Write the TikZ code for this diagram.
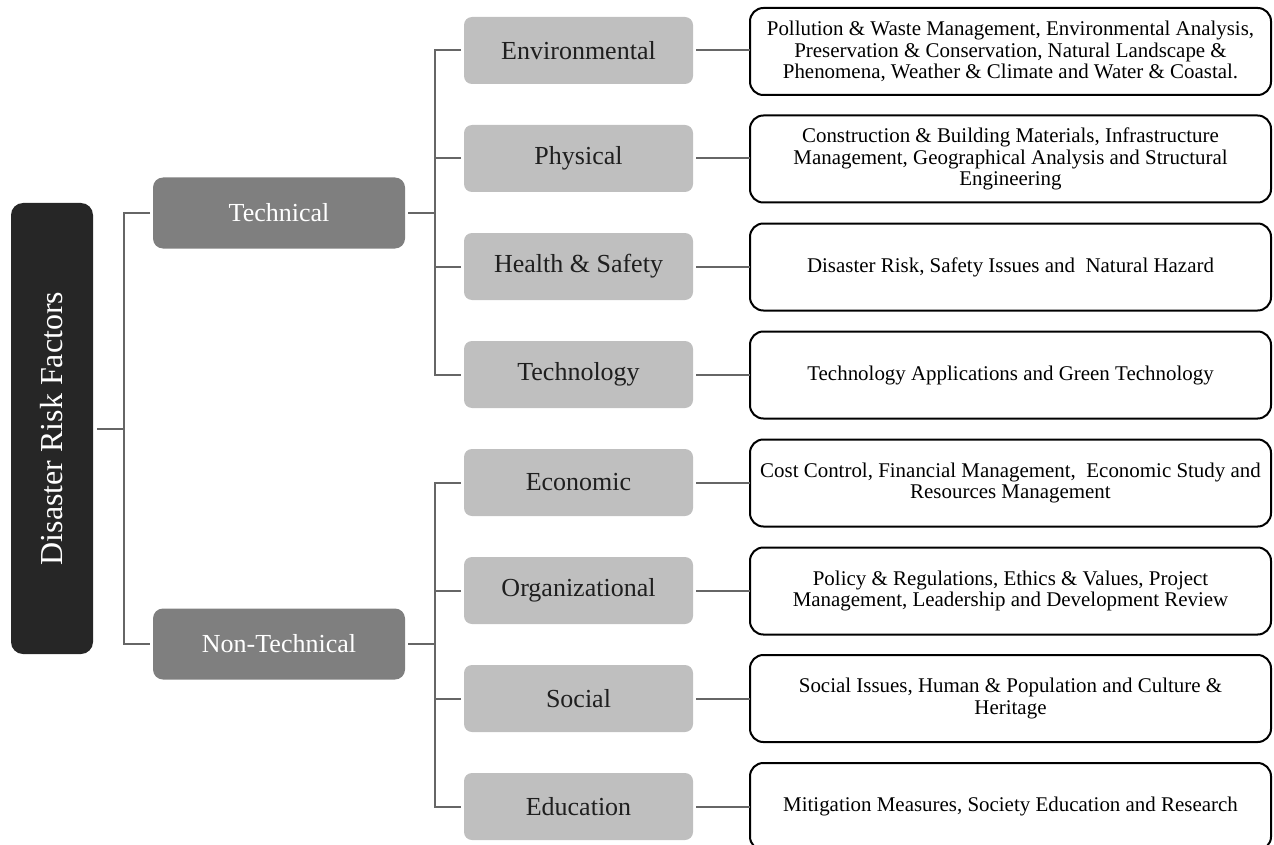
\documentclass[tikz,border=0pt]{standalone}
\usepackage{fontspec}
\setmainfont{Liberation Serif}
\definecolor{rootfill}{HTML}{262626}
\definecolor{midfill}{HTML}{7F7F7F}
\definecolor{leaffill}{HTML}{BFBFBF}
\definecolor{connc}{HTML}{666666}
\definecolor{leaftext}{HTML}{1F1F1F}
\tikzset{
  rootbox/.style={fill=rootfill, rounded corners=9pt, minimum width=61.5pt, minimum height=338.25pt, inner sep=0pt, outer sep=3pt, text=white, font=\fontsize{24}{26}\selectfont},
  midbox/.style={fill=midfill, rounded corners=7.5pt, minimum width=189pt, minimum height=53.25pt, inner sep=0pt, outer sep=2.25pt, text=white, font=\fontsize{19.5}{21}\selectfont},
  leafbox/.style={fill=leaffill, rounded corners=6pt, minimum width=171.75pt, minimum height=50.25pt, inner sep=0pt, outer sep=2.25pt, text=leaftext, font=\fontsize{19.5}{21}\selectfont},
  descbox/.style={draw=black, line width=1.5pt, fill=white, rounded corners=10pt, minimum width=390.75pt, minimum height=65.25pt, inner sep=0pt, outer sep=0pt, align=center, font=\fontsize{15.7}{16}\selectfont},
  conn/.style={draw=connc, line width=1.5pt}
}
\begin{document}
\begin{tikzpicture}[x=0.75pt,y=-0.75pt]
\useasboundingbox (0,0) rectangle (1274,845);
% root
\node[rootbox] (root) at (52,428.5) {\rotatebox{90}{Disaster Risk Factors}};
% level 1
\node[midbox] (tech) at (279,213) {Technical};
\node[midbox] (nontech) at (279,644) {Non-Technical};
% level 2
\node[leafbox] (env) at (578.5,50.5) {Environmental};
\node[leafbox] (phys) at (578.5,158.5) {Physical};
\node[leafbox] (hs) at (578.5,266.5) {Health \& Safety};
\node[leafbox] (techn) at (578.5,374.5) {Technology};
\node[leafbox] (econ) at (578.5,482.5) {Economic};
\node[leafbox] (org) at (578.5,590.5) {Organizational};
\node[leafbox] (soc) at (578.5,698.5) {Social};
\node[leafbox] (edu) at (578.5,806.5) {Education};
% descriptions
\node[descbox] (denv) at (1010.5,51.5) {Pollution \& Waste Management, Environmental Analysis,\\Preservation \& Conservation, Natural Landscape \&\\Phenomena, Weather \& Climate and Water \& Coastal.};
\node[descbox] (dphys) at (1010.5,159) {Construction \& Building Materials, Infrastructure\\Management, Geographical Analysis and Structural\\Engineering};
\node[descbox] (dhs) at (1010.5,267) {Disaster Risk, Safety Issues and~ Natural Hazard};
\node[descbox] (dtechn) at (1010.5,375) {Technology Applications and Green Technology};
\node[descbox] (decon) at (1010.5,483) {Cost Control, Financial Management,~ Economic Study and\\Resources Management};
\node[descbox] (dorg) at (1010.5,591) {Policy \& Regulations, Ethics \& Values, Project\\Management, Leadership and Development Review};
\node[descbox] (dsoc) at (1010.5,698.5) {Social Issues, Human \& Population and Culture \&\\Heritage};
\node[descbox] (dedu) at (1010.5,806.5) {Mitigation Measures, Society Education and Research};
% junctions
\coordinate (j0) at (123.5,428.5);
\coordinate (j1) at (434.5,213);
\coordinate (j2) at (434.5,644);
% connectors
\draw[conn] (root.east) -- (j0);
\draw[conn] (tech.west) -| (j0) |- (nontech.west);
\draw[conn] (tech.east) -- (j1);
\draw[conn] (env.west) -| (j1) |- (techn.west);
\draw[conn] (phys.west) -- (phys.west -| j1);
\draw[conn] (hs.west) -- (hs.west -| j1);
\draw[conn] (nontech.east) -- (j2);
\draw[conn] (econ.west) -| (j2) |- (edu.west);
\draw[conn] (org.west) -- (org.west -| j2);
\draw[conn] (soc.west) -- (soc.west -| j2);
\draw[conn] (env.east) -- (env.east -| denv.west);
\draw[conn] (phys.east) -- (phys.east -| dphys.west);
\draw[conn] (hs.east) -- (hs.east -| dhs.west);
\draw[conn] (techn.east) -- (techn.east -| dtechn.west);
\draw[conn] (econ.east) -- (econ.east -| decon.west);
\draw[conn] (org.east) -- (org.east -| dorg.west);
\draw[conn] (soc.east) -- (soc.east -| dsoc.west);
\draw[conn] (edu.east) -- (edu.east -| dedu.west);
\end{tikzpicture}
\end{document}
